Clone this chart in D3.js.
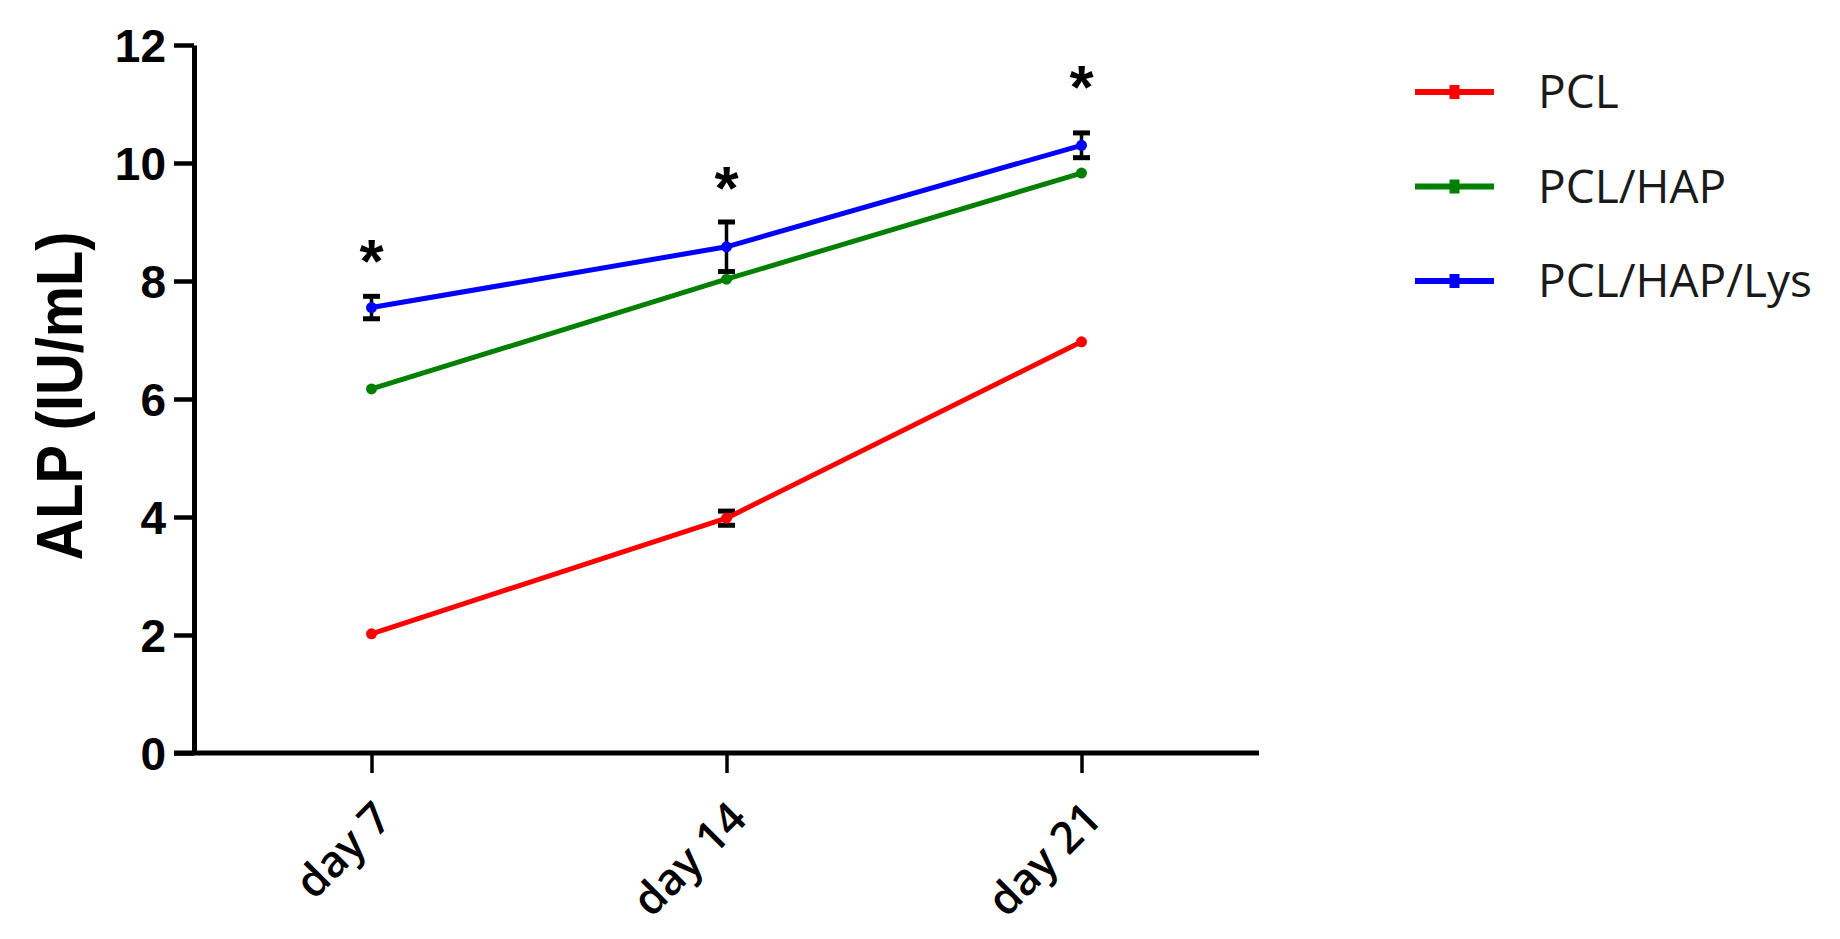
<!DOCTYPE html>
<html>
<head>
<meta charset="utf-8">
<script src="https://cdn.jsdelivr.net/npm/d3@7"></script>
<style>
  html, body { margin: 0; padding: 0; background: #fff; }
  svg { display: block; }
</style>
</head>
<body>
<script>
// ---- data ----
const categories = ["day 7", "day 14", "day 21"];
const seriesNames = ["PCL", "PCL/HAP", "PCL/HAP/Lys"];
const seriesColors = ["#ff0000", "#008000", "#0000ff"];
const pclValues = [2.02, 3.98, 6.97];
const pclErrors = [0, 0.12, 0];
const hapValues = [6.17, 8.03, 9.83];
const hapErrors = [0, 0, 0];
const lysValues = [7.55, 8.58, 10.3];
const lysErrors = [0.19, 0.42, 0.21];
const starValues = [8.62, 9.87, 11.57];
const starLabels = ["*", "*", "*"];
const yTicks = [0, 2, 4, 6, 8, 10, 12];
const yTitle = "ALP (IU/mL)";

const series = [
  { name: seriesNames[0], color: seriesColors[0], values: pclValues, errors: pclErrors },
  { name: seriesNames[1], color: seriesColors[1], values: hapValues, errors: hapErrors },
  { name: seriesNames[2], color: seriesColors[2], values: lysValues, errors: lysErrors }
];

// ---- layout ----
const W = 1840, H = 939;
const svg = d3.select("body").append("svg").attr("width", W).attr("height", H);

const x = d3.scalePoint().domain(categories).range([194, 1259]).padding(0.5);
const y = d3.scaleLinear().domain([0, 12]).range([753, 45]);
const tickLen = 20;

// y axis
const yAxis = svg.append("g").attr("transform", `translate(${x.range()[0]},0)`)
  .call(d3.axisLeft(y).tickValues(yTicks).tickSize(tickLen).tickSizeOuter(0).tickPadding(8).tickFormat(d3.format("d")));
yAxis.select(".domain").attr("stroke", "#000").attr("stroke-width", 5);
yAxis.selectAll(".tick line").attr("stroke", "#000").attr("stroke-width", 4.5);
yAxis.selectAll(".tick text")
  .attr("fill", "#000")
  .style("font-family", "'Liberation Sans', Arial, sans-serif")
  .style("font-weight", "bold")
  .style("font-size", "46px")
  .attr("dy", "0.36em");

// x axis
const xAxis = svg.append("g").attr("transform", `translate(0,${y(0)})`)
  .call(d3.axisBottom(x).tickSize(tickLen).tickSizeOuter(0));
xAxis.select(".domain").remove();
xAxis.append("line")
  .attr("x1", x.range()[0] - tickLen).attr("x2", x.range()[1])
  .attr("y1", 0).attr("y2", 0)
  .attr("stroke", "#000").attr("stroke-width", 5);
xAxis.selectAll(".tick line").attr("stroke", "#000").attr("stroke-width", 3.5);
xAxis.selectAll(".tick text")
  .attr("fill", "#000")
  .style("font-family", "'Open Sans', sans-serif")
  .style("font-weight", "600")
  .style("font-size", "44px")
  .attr("text-anchor", "end")
  .attr("x", 0).attr("y", 0).attr("dy", 0)
  .attr("transform", "translate(22,68) rotate(-45)");

// y title
svg.append("text")
  .attr("transform", `translate(82,${(y(0) + y(12)) / 2 - 3}) rotate(-90)`)
  .attr("text-anchor", "middle")
  .attr("textLength", 329)
  .attr("lengthAdjust", "spacingAndGlyphs")
  .style("font-family", "'Liberation Sans', Arial, sans-serif")
  .style("font-weight", "bold")
  .style("font-size", "64px")
  .attr("fill", "#000")
  .text(yTitle);

// error bars (under lines)
const capW = 17;
series.forEach(s => {
  const g = svg.append("g");
  s.values.forEach((v, i) => {
    const e = s.errors[i];
    if (!e) return;
    const cx = x(categories[i]);
    g.append("line").attr("x1", cx).attr("x2", cx).attr("y1", y(v + e)).attr("y2", y(v - e))
      .attr("stroke", "#000").attr("stroke-width", 3.5);
    [v + e, v - e].forEach(t => {
      g.append("line").attr("x1", cx - capW / 2).attr("x2", cx + capW / 2).attr("y1", y(t)).attr("y2", y(t))
        .attr("stroke", "#000").attr("stroke-width", 5);
    });
  });
});

// lines + markers
const line = d3.line().x((d, i) => x(categories[i])).y(d => y(d));
series.forEach(s => {
  svg.append("path").datum(s.values)
    .attr("d", line)
    .attr("fill", "none")
    .attr("stroke", s.color)
    .attr("stroke-width", 5)
    .attr("stroke-linejoin", "round");
  svg.append("g").selectAll("circle").data(s.values).join("circle")
    .attr("cx", (d, i) => x(categories[i]))
    .attr("cy", d => y(d))
    .attr("r", 5.5)
    .attr("fill", s.color);
});

// significance stars
starValues.forEach((v, i) => {
  const t = svg.append("text")
    .attr("x", x(categories[i])).attr("y", 0)
    .attr("text-anchor", "middle")
    .style("font-family", "'Liberation Sans', Arial, sans-serif")
    .style("font-weight", "bold")
    .style("font-size", "62px")
    .attr("fill", "#000")
    .text(starLabels[i]);
  const bb = t.node().getBBox();
  const inkCenter = bb.y + bb.height * 0.26;
  t.attr("y", y(v) - inkCenter);
});

// legend
const lg = svg.append("g");
const legX0 = 1415, legX1 = 1494, legText = 1538;
const legY = d3.scalePoint().domain(seriesNames).range([92, 281]);
series.forEach(s => {
  const yy = legY(s.name);
  lg.append("line").attr("x1", legX0).attr("x2", legX1).attr("y1", yy).attr("y2", yy)
    .attr("stroke", s.color).attr("stroke-width", 6);
  lg.append("rect").attr("x", (legX0 + legX1) / 2 - 5).attr("y", yy - 7).attr("width", 10).attr("height", 14)
    .attr("fill", s.color);
  lg.append("text").attr("x", legText).attr("y", yy).attr("dy", "0.35em")
    .style("font-family", "'Open Sans', sans-serif")
    .style("font-size", "46px")
    .attr("fill", "#1a1a1a")
    .text(s.name);
});
</script>
</body>
</html>
